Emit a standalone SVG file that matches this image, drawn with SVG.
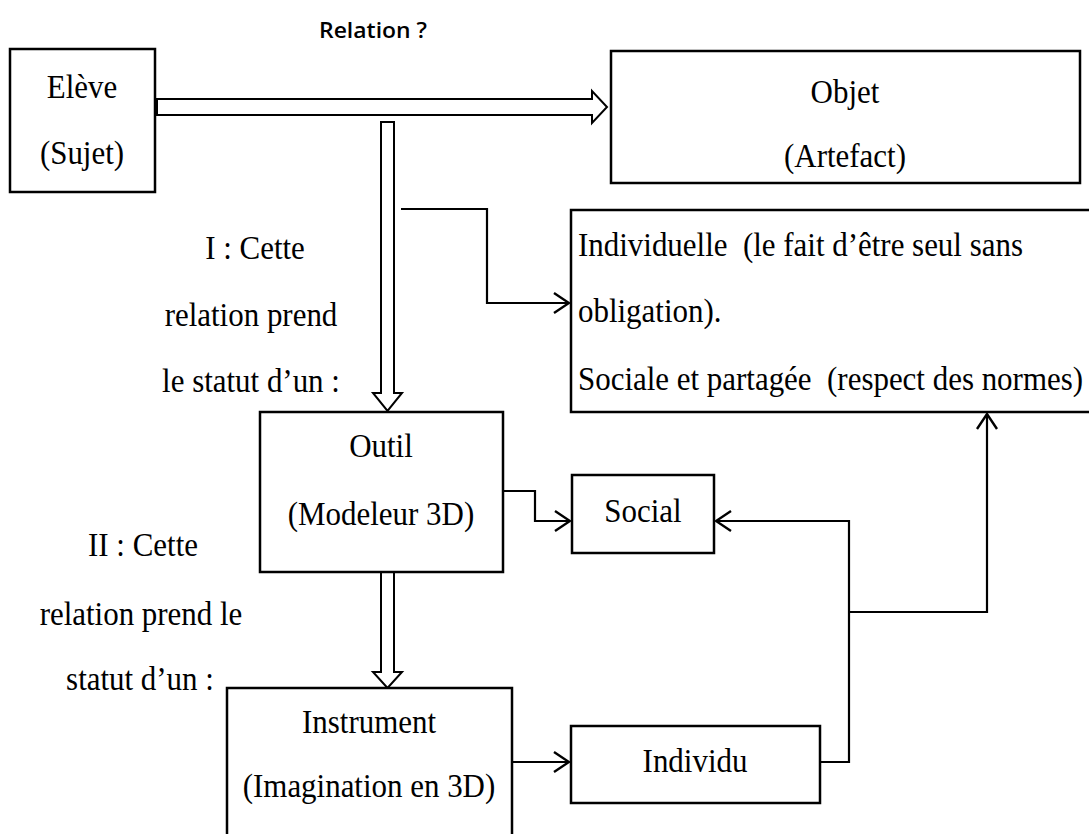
<svg xmlns="http://www.w3.org/2000/svg" width="1089" height="834" viewBox="0 0 1089 834">
<style>
.box{fill:#fff;stroke:#000;stroke-width:2.5}
.t{font-family:"Liberation Serif","DejaVu Serif",serif;font-size:34px;fill:#000;white-space:pre;transform-box:fill-box;transform-origin:center;transform:scaleX(0.91)}
.l{transform-origin:left center}
.c{text-anchor:middle}
.ln{fill:none;stroke:#000;stroke-width:2.2}
.hollow{fill:#fff;stroke:#000;stroke-width:2}
.sans{font-family:"Open Sans","Liberation Sans",sans-serif;font-size:22px;font-weight:600;fill:#000}
</style>
<defs>
<marker id="ah" markerUnits="userSpaceOnUse" viewBox="-17 -12 19 24" markerWidth="19" markerHeight="24" refX="0" refY="0" orient="auto">
<path d="M-15,-10 L0,0 L-15,10" fill="none" stroke="#000" stroke-width="2.4"/>
</marker>
</defs>
<rect width="1089" height="834" fill="#fff"/>
<text class="sans c" x="373" y="38" textLength="108" lengthAdjust="spacingAndGlyphs">Relation ?</text>

<g id="connectors">
<polygon class="hollow" points="157,99 592,99 592,91 607,107 592,123 592,115 157,115"/>
<polygon class="hollow" points="381,122 394,122 394,393 402,393 387.5,411 373,393 381,393"/>
<polygon class="hollow" points="381,572 394,572 394,672 402,672 387.5,688 373,672 381,672"/>
<polyline class="ln" points="401,209 487,209 487,303 569,303" marker-end="url(#ah)"/>
<polyline class="ln" points="503,491 535,491 535,521 570,521" marker-end="url(#ah)"/>
<polyline class="ln" points="512,762 569,762" marker-end="url(#ah)"/>
<polyline class="ln" points="820,762 849,762 849,521 716,521" marker-end="url(#ah)"/>
<polyline class="ln" points="849,612 987,612 987,414" marker-end="url(#ah)"/>
</g>

<g id="eleve">
<rect class="box" x="10" y="49" width="145" height="143"/>
<text class="t c" x="82" y="98">Elève</text>
<text class="t c" x="82" y="164">(Sujet)</text>
</g>
<g id="objet">
<rect class="box" x="611" y="51" width="469" height="132"/>
<text class="t c" x="845" y="103">Objet</text>
<text class="t c" x="845" y="167">(Artefact)</text>
</g>
<g id="statut">
<rect class="box" x="571" y="210" width="525" height="202"/>
<text class="t l" x="578" y="256">Individuelle  (le fait d’être seul sans</text>
<text class="t l" x="578" y="322">obligation).</text>
<text class="t l" x="578" y="390">Sociale et partagée  (respect des normes)</text>
</g>
<g id="label1">
<text class="t c" x="255" y="259">I : Cette</text>
<text class="t c" x="251" y="326">relation prend</text>
<text class="t c" x="251" y="392">le statut d’un :</text>
</g>
<g id="outil">
<rect class="box" x="260" y="412" width="243" height="160"/>
<text class="t c" x="381" y="457">Outil</text>
<text class="t c" x="381" y="525">(Modeleur 3D)</text>
</g>
<g id="social">
<rect class="box" x="572" y="475" width="142" height="78"/>
<text class="t c" x="643" y="522">Social</text>
</g>
<g id="label2">
<text class="t c" x="143" y="556">II : Cette</text>
<text class="t c" x="141" y="625">relation prend le</text>
<text class="t c" x="140" y="690">statut d’un :</text>
</g>
<g id="instrument">
<rect class="box" x="227" y="688" width="285" height="160"/>
<text class="t c" x="369" y="733">Instrument</text>
<text class="t c" x="369" y="797">(Imagination en 3D)</text>
</g>
<g id="individu">
<rect class="box" x="571" y="726" width="249" height="77"/>
<text class="t c" x="695" y="772">Individu</text>
</g>
</svg>
